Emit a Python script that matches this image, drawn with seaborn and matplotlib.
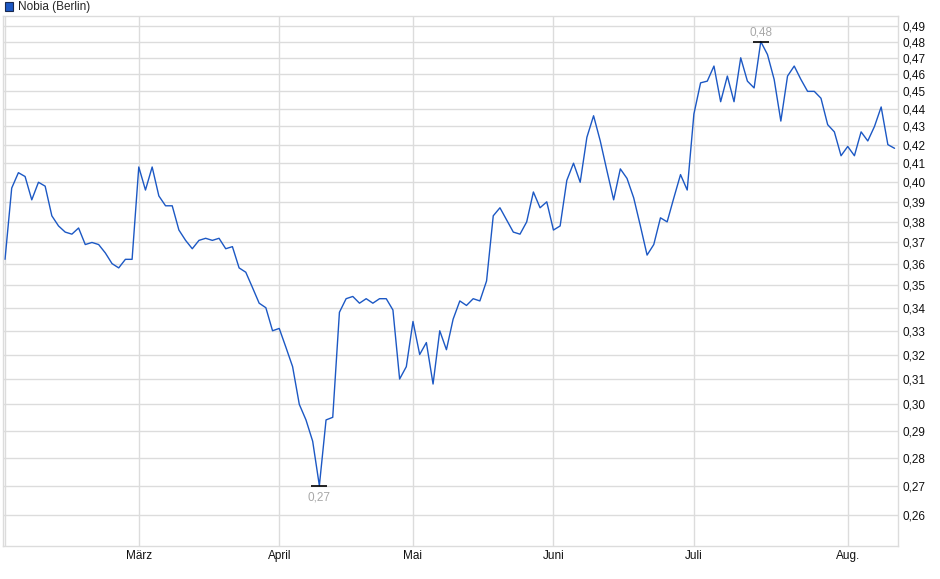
import numpy as np
import pandas as pd
import seaborn as sns
import matplotlib.pyplot as plt
from matplotlib.patches import Patch
from matplotlib.ticker import FixedLocator, FuncFormatter, NullLocator

'''
0) data (read off the reference chart, trading days Feb 3 - Aug 12)
'''
series_name = 'Nobia (Berlin)'
start_date = '2025-02-03'
end_date = '2025-08-12'
holidays = ['2025-04-18', '2025-04-21', '2025-05-01']

price = [0.362, 0.397, 0.405, 0.403, 0.391, 0.400, 0.398, 0.383, 0.378, 0.375,
         0.374, 0.377, 0.369, 0.370, 0.369, 0.365, 0.360, 0.358, 0.362, 0.362,
         0.408, 0.396, 0.408, 0.393, 0.388, 0.388, 0.376, 0.371, 0.367, 0.371,
         0.372, 0.371, 0.372, 0.367, 0.368, 0.358, 0.356, 0.349, 0.342, 0.340,
         0.330, 0.331, 0.323, 0.315, 0.300, 0.294, 0.286, 0.270, 0.294, 0.295,
         0.338, 0.344, 0.345, 0.342, 0.344, 0.342, 0.344, 0.344, 0.339, 0.310,
         0.315, 0.334, 0.320, 0.325, 0.308, 0.330, 0.322, 0.335, 0.343, 0.341,
         0.344, 0.343, 0.352, 0.383, 0.387, 0.381, 0.375, 0.374, 0.380, 0.395,
         0.387, 0.390, 0.376, 0.378, 0.401, 0.410, 0.400, 0.424, 0.436, 0.422,
         0.406, 0.391, 0.407, 0.402, 0.392, 0.378, 0.364, 0.369, 0.382, 0.380,
         0.392, 0.404, 0.396, 0.437, 0.455, 0.456, 0.465, 0.444, 0.459, 0.444,
         0.470, 0.456, 0.452, 0.480, 0.472, 0.457, 0.433, 0.459, 0.465, 0.457,
         0.450, 0.450, 0.446, 0.431, 0.427, 0.414, 0.419, 0.414, 0.427, 0.422,
         0.430, 0.441, 0.420, 0.418]

month_names = {3: 'März', 4: 'April', 5: 'Mai', 6: 'Juni', 7: 'Juli', 8: 'Aug.'}
y_ticks = [0.26, 0.27, 0.28, 0.29, 0.30, 0.31, 0.32, 0.33, 0.34, 0.35, 0.36, 0.37,
           0.38, 0.39, 0.40, 0.41, 0.42, 0.43, 0.44, 0.45, 0.46, 0.47, 0.48, 0.49]

line_col = '#1c58c4'
grid_col = '#dcdcdc'

'''
1) build frame
'''
dates = pd.bdate_range(start_date, end_date)
dates = dates[~dates.isin(pd.to_datetime(holidays))]
df = pd.DataFrame({'date': dates[:len(price)], 'price': price})
df['idx'] = np.arange(len(df))

# first trading day of each month -> month gridlines
firsts = df.groupby([df.date.dt.month]).idx.min()
month_pos = [firsts[m] for m in month_names]
month_lab = [month_names[m] for m in month_names]

'''
2) plot
'''
sns.set_style('white')
plt.rcParams['font.family'] = ['Liberation Sans', 'DejaVu Sans']

fig = plt.figure(figsize=(9.4, 5.79), dpi=100)
ax = fig.add_axes([0.0032, 0.057, 0.952, 0.9155])

for v in y_ticks:
    ax.axhline(v, color=grid_col, lw=1, zorder=0)
for p in [0] + month_pos:
    ax.axvline(p, color=grid_col, lw=1, zorder=0)

sns.lineplot(x='idx', y='price', data=df, ax=ax, color=line_col, lw=1.0, legend=False)

ax.set_yscale('log')
ax.set_ylim(0.2497, 0.4962)
ax.set_xlim(-0.3, 133.5)
ax.yaxis.set_major_locator(FixedLocator(y_ticks))
ax.yaxis.set_minor_locator(NullLocator())
ax.yaxis.set_major_formatter(FuncFormatter(lambda v, p: ('%.2f' % v).replace('.', ',')))
ax.yaxis.tick_right()
ax.set_xticks(month_pos)
ax.set_xticklabels(month_lab)
ax.tick_params(axis='both', length=0, labelsize=8.5, colors='#111111')
ax.tick_params(axis='y', pad=3.5)
ax.tick_params(axis='x', pad=3)
ax.set_xlabel('')
ax.set_ylabel('')
for s in ax.spines.values():
    s.set_color(grid_col)
    s.set_linewidth(1)

# min / max markers
imax = int(np.argmax(price))
imin = int(np.argmin(price))
for i, off, va in [(imax, 2.5, 'bottom'), (imin, -4, 'top')]:
    ax.plot(i, price[i], marker='_', ms=11, mew=1.2, color='black', zorder=4)
    ax.annotate(('%.2f' % price[i]).replace('.', ','), (i, price[i]),
                xytext=(0, off), textcoords='offset points', ha='center', va=va,
                fontsize=8.5, color='#a8a8a8')

fig.legend(handles=[Patch(facecolor=line_col, edgecolor='#1a2a50', lw=0.8)],
           labels=[series_name], loc='upper left', bbox_to_anchor=(-0.004, 1.012),
           frameon=False, fontsize=8.5, handlelength=0.75, handleheight=0.75,
           handletextpad=0.4, borderpad=0.2)

plt.savefig('out.png', dpi=100)
